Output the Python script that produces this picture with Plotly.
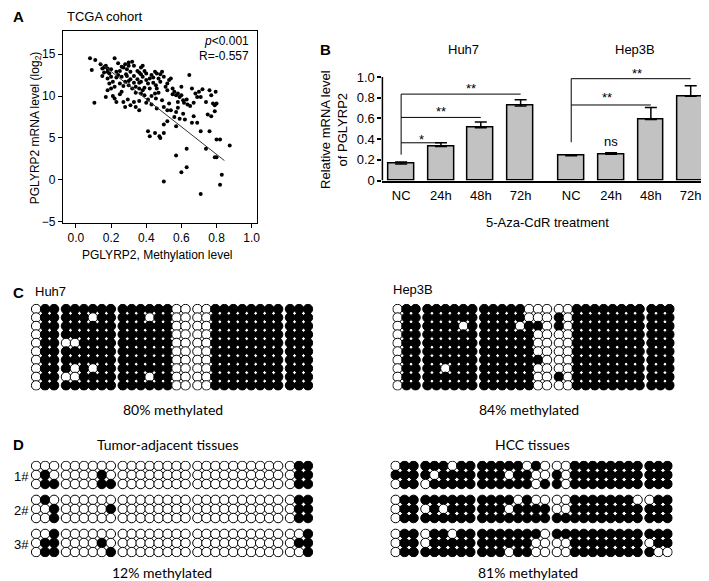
import plotly.graph_objects as go

W, H = 709, 581


def px_x(p):
    return p / W


def px_y(p):
    return 1 - p / H


FONT = "Liberation Sans, Arial, sans-serif"
FONT2 = "Lato, Open Sans, sans-serif"

# ---------------- Panel A data (TCGA cohort) ----------------
meth = [0.08, 0.11, 0.09, 0.105, 0.14, 0.16, 0.15, 0.17, 0.18, 0.18, 0.19, 0.22, 0.20, 0.18, 0.21,
        0.23, 0.25, 0.24, 0.27, 0.28, 0.29, 0.30, 0.32, 0.33, 0.285, 0.26, 0.22, 0.20, 0.18, 0.17,
        0.22, 0.23, 0.26, 0.27, 0.28, 0.30, 0.31, 0.30, 0.32, 0.33, 0.34, 0.35, 0.36, 0.37, 0.38,
        0.39, 0.38, 0.37, 0.36, 0.38, 0.37, 0.39, 0.41, 0.42, 0.43, 0.45, 0.46, 0.47, 0.48, 0.455,
        0.46, 0.45, 0.455, 0.43, 0.41, 0.40, 0.36, 0.34, 0.33, 0.31, 0.28, 0.27, 0.295, 0.49, 0.50,
        0.51, 0.52, 0.54, 0.55, 0.56, 0.57, 0.58, 0.59, 0.60, 0.61, 0.615, 0.645, 0.635, 0.65, 0.67,
        0.69, 0.70, 0.71, 0.67, 0.66, 0.69, 0.59, 0.56, 0.54, 0.52, 0.50, 0.49, 0.53, 0.57, 0.61,
        0.62, 0.52, 0.50, 0.41, 0.42, 0.45, 0.475, 0.48, 0.50, 0.57, 0.71, 0.76, 0.77, 0.78, 0.79,
        0.795, 0.80, 0.75, 0.77, 0.79, 0.76, 0.57, 0.63, 0.63, 0.60, 0.50, 0.71, 0.74, 0.79, 0.80,
        0.80, 0.82, 0.875, 0.83, 0.82,
        0.16, 0.20, 0.23, 0.25, 0.26, 0.29, 0.31, 0.33, 0.35, 0.36, 0.40, 0.42, 0.44, 0.47, 0.48,
        0.52, 0.55, 0.58, 0.60, 0.63, 0.66, 0.68, 0.72, 0.74, 0.25, 0.21, 0.19, 0.15, 0.24, 0.30,
        0.37, 0.40, 0.44, 0.53, 0.39, 0.34, 0.43, 0.46, 0.36, 0.58]
mrna = [14.5, 14.3, 13.1, 9.2, 13.8, 13.4, 13.3, 13.6, 13.3, 12.9, 12.7, 14.5, 12.3, 12.1, 11.7,
        12.9, 13.0, 12.5, 13.4, 13.8, 13.2, 13.6, 14.1, 13.6, 12.6, 12.3, 11.1, 10.9, 10.7, 9.9,
        9.7, 9.3, 10.5, 11.2, 11.7, 11.8, 12.0, 11.3, 10.9, 11.6, 11.1, 12.0, 12.8, 13.4, 13.6,
        13.0, 12.3, 11.7, 10.9, 10.7, 10.3, 10.1, 11.5, 12.1, 12.5, 12.9, 12.7, 12.1, 11.7, 11.3,
        10.9, 10.3, 9.7, 10.0, 9.6, 9.2, 9.4, 8.7, 9.3, 8.9, 8.7, 9.3, 9.6, 12.9, 12.3,
        11.1, 11.5, 12.1, 10.9, 10.5, 10.1, 10.3, 9.9, 10.1, 9.5, 9.2, 12.5, 9.0, 8.8, 9.2,
        9.9, 10.5, 9.9, 7.6, 6.8, 6.8, 7.3, 7.5, 8.3, 8.3, 8.7, 9.5, 9.1, 8.1, 7.9,
        7.2, 7.0, 6.6, 5.8, 5.2, 5.6, 5.2, 5.0, 5.6, 6.4, 5.8, 10.7, 10.1, 9.1, 8.9,
        10.5, 9.1, 7.8, 7.6, 8.2, 5.8, 2.9, 3.7, 1.5, 0.9, -0.2, -1.7, 3.7, 2.7, 2.7,
        4.8, 4.8, 4.1, 0.6, -0.6,
        12.8, 13.2, 12.2, 11.5, 13.5, 12.4, 12.9, 12.4, 13.0, 11.6, 11.9, 10.9, 11.6, 10.4, 12.6,
        10.7, 10.2, 9.3, 11.1, 9.6, 10.9, 10.3, 10.8, 9.3, 10.2, 10.0, 11.5, 12.4, 13.9, 14.0,
        12.6, 12.7, 12.2, 11.9, 11.0, 10.4, 9.0, 8.5, 8.3, 8.6]
fit_x = [0.135, 0.845]
fit_y = [14.0, 2.3]
a_xticks = [0.0, 0.2, 0.4, 0.6, 0.8, 1.0]
a_yticks = [-5, 0, 5, 10, 15]

# ---------------- Panel B data ----------------
conditions = ["NC", "24h", "48h", "72h"]
huh7_vals = [0.16, 0.33, 0.51, 0.72]
huh7_err = [0.02, 0.035, 0.055, 0.06]
hep3b_vals = [0.24, 0.255, 0.59, 0.815]
hep3b_err = [0.01, 0.015, 0.115, 0.10]
b_yticks = [0, 0.2, 0.4, 0.6, 0.8, 1.0]
b_yticklabels = ["0", "0.2", "0.4", "0.6", "0.8", "1.0"]
# significance brackets: (target index, bracket level, label)
sig_huh7 = [(1, 0.365, "*"), (2, 0.61, "**"), (3, 0.835, "**")]
sig_hep3b = [(2, 0.73, "**"), (3, 0.984, "**")]

# ---------------- Panel C / D methylation patterns ----------------
# x = methylated CpG, o = unmethylated CpG ; groups of CpG sites separated by spaces
huh7_pattern = [
    "oxx xxxxxx xxxxxxoo ooxxxxxxxx xxx",
    "oxx xxxoxx xxxoxxoo ooxxxxxxxx xxx",
    "oxx xxxxxx xxxxxxoo ooxxxxxxxx xxx",
    "oxx xxxxxx xxxxxxoo ooxxxxxxxx xxx",
    "oxx ooxxxx xxxxxxoo ooxxxxxxxx xxx",
    "oxx xxxxxx xxxxxxoo ooxxxxxxxx xxx",
    "oxx xxxxxx xxxxxxoo ooxxxxxxxx xxx",
    "oxx xoxoxx xxxxxxoo ooxxxxxxxx xxx",
    "oxx ooxxxx xxxoxxoo ooxxxxxxxx xxx",
    "oxx xxxxxx xxxxxxoo ooxxxxxxxx xxx",
]
hep3b_pattern = [
    "oxx xxxxxx xxxxxooo ooxxxxxxxx xxx",
    "oxx xxxxxx xxxxxooo xoxxxxxxxx xxx",
    "oxx xxxxox xxxxoxxo xoxxxxxxxx xxx",
    "oxx xxxxxx xxxxxxoo ooxxxxxxxx xxx",
    "oxx xxxxxx xxxxxxoo ooxxxxxxxx xxx",
    "oxx xxxxxx xxxxxxoo ooxxxxxxxx xxx",
    "oxx xxxxxx xxxxxxxo ooxxxxxxxx xxx",
    "oxx xxoxxx xxxxxxoo ooxxxxxxxx xxx",
    "oxx xxxxxx xxxxxxoo xoxxxxxxxx xxx",
    "oxx xxxxxx xxxxxxoo ooxxxxxxxx xxx",
]
adjacent_pattern = [
    ["ooo oooooo oooooooo oooooooooo oxx",
     "oxo ooooxo oooooooo oooooooooo oxx",
     "oxx ooooxx oooooooo oooooooooo oxx"],
    ["oxo oooooo oooooooo oooooooooo oxx",
     "oox ooooox oooooooo oooooooooo oxx",
     "oox oooooo oooooooo oooooooooo oxx"],
    ["oox oooooo oooooooo oooooooooo oox",
     "oxx ooooxo oooooooo oooooooooo oxx",
     "oxx ooooox oooooooo oooooooooo oox"],
]
hcc_pattern = [
    ["oxx xxxoxx xxxxxoxo ooxxxxxxxx xxx",
     "xxx xoxxxx xxxoxxoo xoxxxxxxxx xxx",
     "oxx oxxxxx xxxxxxox xoxxxxxxxx xxx"],
    ["oxx xxxxxx xxxxoxoo ooxxxxxxxo oxx",
     "oxx oxoxxx xxxoxxxx ooxxxxxxxx xxx",
     "oxx xxxxxx xxxxxxxx xxxxxxxxxx xxx"],
    ["oxx oxxoxx xxxxxxxo xxxxxxxxxx xxx",
     "oxx oxxxxx xxxxxxoo ooxxxxxxxx oxx",
     "oxx xxxxxx xxxoxxoo ooxxxxxxxx xoo"],
]

fig = go.Figure()

# ---- Panel A ----
fig.add_trace(go.Scatter(x=meth, y=mrna, mode="markers",
                         marker=dict(color="black", size=4),
                         xaxis="x", yaxis="y", hoverinfo="skip"))
fig.add_trace(go.Scatter(x=fit_x, y=fit_y, mode="lines",
                         line=dict(color="#333333", width=1),
                         xaxis="x", yaxis="y", hoverinfo="skip"))

# ---- Panel B ----
HEP_OFFSET = 4.27
huh7_x = list(range(len(conditions)))
hep_x = [HEP_OFFSET + i for i in range(len(conditions))]
fig.add_trace(go.Bar(
    x=huh7_x + hep_x, y=huh7_vals + hep3b_vals, width=0.65,
    marker=dict(color="#c2c2c2", line=dict(color="black", width=1.5)),
    error_y=dict(type="data", array=huh7_err + hep3b_err, arrayminus=[0] * 8,
                 symmetric=False, color="black", thickness=1.5, width=6),
    xaxis="x2", yaxis="y2", hoverinfo="skip"))

# ---- Panels C / D grids ----
GROUPS = [3, 6, 8, 10, 3]
col_group = []
for gi, n in enumerate(GROUPS):
    col_group += [gi] * n
SX = 9.0     # px between CpG columns
GAP = 3.0    # extra px between CpG groups
DIAM = 10.5  # visible circle diameter in px


def col_pos(c):
    return c + col_group[c] * GAP / SX


grid_axes = []


def add_grid(blocks, left_px, top_px, sy, block_pitch_px, idx):
    xs, ys, cols = [], [], []
    nrows_total = 0
    for b, rows in enumerate(blocks):
        for r, row in enumerate(rows):
            cells = row.replace(" ", "")
            ypos = b * block_pitch_px / sy + r
            nrows_total = max(nrows_total, ypos)
            for c, ch in enumerate(cells):
                xs.append(col_pos(c))
                ys.append(ypos)
                cols.append("black" if ch == "x" else "white")
    xmax = col_pos(len(col_group) - 1)
    half_x = DIAM / 2 / SX
    half_y = DIAM / 2 / sy
    width_px = xmax * SX + DIAM
    height_px = nrows_total * sy + DIAM
    xa = dict(domain=[px_x(left_px), px_x(left_px + width_px)],
              range=[-half_x, xmax + half_x], visible=False, fixedrange=True)
    ya = dict(domain=[px_y(top_px + height_px), px_y(top_px)],
              range=[nrows_total + half_y, -half_y], visible=False, fixedrange=True)
    fig.add_trace(go.Scatter(x=xs, y=ys, mode="markers",
                             marker=dict(color=cols, size=DIAM - 1, symbol="circle",
                                         line=dict(color="black", width=1)),
                             xaxis="x%d" % idx, yaxis="y%d" % idx, hoverinfo="skip"))
    grid_axes.append((idx, xa, ya))


add_grid([huh7_pattern], 23, 300, 8.6, 0, 3)
add_grid([hep3b_pattern], 386, 300, 8.6, 0, 4)
add_grid(adjacent_pattern, 23, 459, 9.2, 34.5, 5)
add_grid(hcc_pattern, 384, 459, 9.2, 34.5, 6)

layout = dict(
    width=W, height=H, margin=dict(l=0, r=0, t=0, b=0),
    paper_bgcolor="white", plot_bgcolor="white", showlegend=False,
    font=dict(family=FONT, color="black", size=12),
    bargap=0,
)

# Panel A axes (plot box 55-250 px x, 23-218 px y)
layout["xaxis"] = dict(domain=[px_x(55), px_x(250)], range=[-0.075, 1.03], anchor="y",
                       showline=True, mirror=True, linecolor="black", linewidth=1,
                       ticks="outside", ticklen=4, tickwidth=1, tickcolor="black",
                       tickvals=a_xticks, ticktext=["%.1f" % v for v in a_xticks],
                       showgrid=False, zeroline=False, tickfont=dict(size=12))
layout["yaxis"] = dict(domain=[px_y(218), px_y(23)], range=[-5.15, 17.8], anchor="x",
                       showline=True, mirror=True, linecolor="black", linewidth=1,
                       ticks="outside", ticklen=4, tickwidth=1, tickcolor="black",
                       tickvals=a_yticks, showgrid=False, zeroline=False,
                       tickfont=dict(size=12))

# Panel B axes (x 376-700 px, y0 at 175 px, 1.0 at 70 px)
B_TOP = 1.12
layout["xaxis2"] = dict(domain=[px_x(376), px_x(700)], range=[-0.47, 7.63], anchor="y2",
                        showline=True, linecolor="black", linewidth=1.5,
                        ticks="outside", ticklen=2, tickcolor="rgba(0,0,0,0)",
                        tickvals=huh7_x + hep_x, ticktext=conditions + conditions,
                        showgrid=False, zeroline=False, tickfont=dict(size=13))
layout["yaxis2"] = dict(domain=[px_y(175), px_y(175 - 105 * B_TOP)], range=[0, B_TOP],
                        anchor="x2", showline=False,
                        ticks="outside", ticklen=4, tickwidth=1.5, tickcolor="black",
                        tickvals=b_yticks, ticktext=b_yticklabels,
                        showgrid=False, zeroline=False, tickfont=dict(size=13))

for idx, xa, ya in grid_axes:
    xa["anchor"] = "y%d" % idx
    ya["anchor"] = "x%d" % idx
    layout["xaxis%d" % idx] = xa
    layout["yaxis%d" % idx] = ya

shapes = []
# B left axis line (0 to 1.0)
shapes.append(dict(type="line", xref="x2 domain", yref="y2", x0=0, x1=0, y0=0, y1=1.0,
                   line=dict(color="black", width=1.5)))


def bracket(base_x, base_top, sigs):
    top = max(s[1] for s in sigs)
    shapes.append(dict(type="line", xref="x2", yref="y2", x0=base_x, x1=base_x,
                       y0=base_top, y1=top, line=dict(color="black", width=1)))
    for tgt, lvl, _ in sigs:
        shapes.append(dict(type="line", xref="x2", yref="y2", x0=base_x, x1=base_x + tgt,
                           y0=lvl, y1=lvl, line=dict(color="black", width=1)))


bracket(0, huh7_vals[0] + huh7_err[0] + 0.07, sig_huh7)
bracket(HEP_OFFSET, hep3b_vals[0] + hep3b_err[0] + 0.12, sig_hep3b)
layout["shapes"] = shapes

ann = []


def txt(x, y, s, size=12, family=FONT, xanchor="center", yanchor="middle", **kw):
    ann.append(dict(x=x, y=y, xref="paper", yref="paper", text=s, showarrow=False,
                    xanchor=xanchor, yanchor=yanchor,
                    font=dict(family=family, size=size, color="black"), **kw))


# Panel A texts
txt(px_x(3), px_y(9), "<b>A</b>", size=15, xanchor="left")
txt(px_x(57), px_y(9), "TCGA cohort", size=13, xanchor="left")
txt(px_x(244), px_y(33), "<i>p</i><0.001", size=12, xanchor="right")
txt(px_x(244), px_y(49), "R=-0.557", size=12, xanchor="right")
txt(px_x(28), px_y(121), "PGLYRP2 mRNA level (log<sub>2</sub>)", size=12, textangle=-90)
txt(px_x(150), px_y(250), "PGLYRP2, Methylation level", size=12)

# Panel B texts
txt(px_x(311), px_y(42), "<b>B</b>", size=15, xanchor="left")
txt(px_x(457), px_y(42), "Huh7", size=13)
txt(px_x(630), px_y(42), "Hep3B", size=13)
txt(px_x(328), px_y(123), "Relative mRNA level<br>of PGLYRP2", size=13, textangle=-90)
txt(px_x(542), px_y(217), "5-Aza-CdR treatment", size=13)

star_pos_huh7 = [(0.5, 0.40), (1.0, 0.67), (1.75, 0.89)]
for (sx, sy_), (_, _, lab) in zip(star_pos_huh7, sig_huh7):
    ann.append(dict(x=sx, y=sy_, xref="x2", yref="y2", text=lab, showarrow=False,
                    font=dict(family=FONT, size=13, color="black")))
star_pos_hep = [(HEP_OFFSET + 0.9, 0.80), (HEP_OFFSET + 1.65, 1.035)]
for (sx, sy_), (_, _, lab) in zip(star_pos_hep, sig_hep3b):
    ann.append(dict(x=sx, y=sy_, xref="x2", yref="y2", text=lab, showarrow=False,
                    font=dict(family=FONT, size=13, color="black")))
ann.append(dict(x=HEP_OFFSET + 1, y=0.38, xref="x2", yref="y2", text="ns", showarrow=False,
                font=dict(family=FONT, size=13, color="black")))

# Panel C texts
txt(px_x(3), px_y(288), "<b>C</b>", size=15, xanchor="left")
txt(px_x(25), px_y(287), "Huh7", size=13, xanchor="left")
txt(px_x(385), px_y(285), "Hep3B", size=13, xanchor="left")
txt(px_x(166), px_y(407), "80% methylated", size=14, family=FONT2)
txt(px_x(523), px_y(407), "84% methylated", size=14, family=FONT2)

# Panel D texts
txt(px_x(3), px_y(443), "<b>D</b>", size=15, xanchor="left")
txt(px_x(160), px_y(443), "Tumor-adjacent tissues", size=14, family=FONT2)
txt(px_x(527), px_y(443), "HCC tissues", size=14, family=FONT2)
for i, lab in enumerate(["1#", "2#", "3#"]):
    txt(px_x(4), px_y(475 + 34.5 * i), lab, size=13, xanchor="left")
txt(px_x(155), px_y(572), "12% methylated", size=14, family=FONT2)
txt(px_x(522), px_y(572), "81% methylated", size=14, family=FONT2)

layout["annotations"] = ann
fig.update_layout(**layout)
fig.write_html("out.html")
